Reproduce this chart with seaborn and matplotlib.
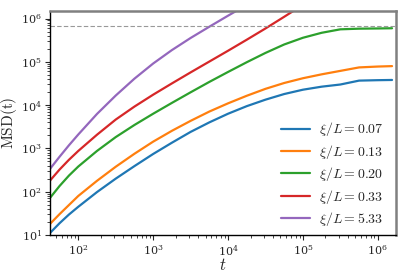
import numpy as np
import pandas as pd
import matplotlib
matplotlib.use("Agg")
import matplotlib.pyplot as plt
import seaborn as sns

# time points (log10) shared by all curves
log_t = [1.62, 1.75, 1.875, 2.0, 2.25, 2.5, 2.75, 3.0, 3.25, 3.5, 3.75, 4.0,
         4.25, 4.5, 4.75, 5.0, 5.25, 5.5, 5.75, 6.0, 6.19]

# log10 MSD (None = off the top of the plot)
msd_007 = [1.04, 1.27, 1.47, 1.65, 1.99, 2.30, 2.59, 2.87, 3.13, 3.38, 3.60, 3.80,
           3.975, 4.125, 4.255, 4.355, 4.425, 4.475, 4.565, 4.575, 4.58]
msd_013 = [1.25, 1.48, 1.69, 1.90, 2.25, 2.575, 2.875, 3.155, 3.405, 3.635, 3.85, 4.04,
           4.215, 4.375, 4.51, 4.62, 4.71, 4.79, 4.87, 4.89, 4.90]
msd_020 = [1.85, 2.13, 2.37, 2.58, 2.94, 3.26, 3.54, 3.80, 4.05, 4.295, 4.535, 4.765,
           4.99, 5.205, 5.40, 5.555, 5.67, 5.75, 5.765, 5.77, 5.775]
msd_033 = [2.25, 2.51, 2.735, 2.94, 3.315, 3.665, 3.965, 4.24, 4.50, 4.755, 5.005, 5.255,
           5.51, 5.77, 6.04, 6.315, 6.59, None, None, None, None]
msd_533 = [2.52, 2.806, 3.07, 3.32, 3.795, 4.22, 4.61, 4.96, 5.27, 5.55, 5.81, 6.065,
           6.315, 6.565, None, None, None, None, None, None, None]

labels = [r"$\xi/L = 0.07$", r"$\xi/L = 0.13$", r"$\xi/L = 0.20$",
          r"$\xi/L = 0.33$", r"$\xi/L = 5.33$"]
series = [msd_007, msd_013, msd_020, msd_033, msd_533]
plateau = 6.8e5

rows = []
for lab, vals in zip(labels, series):
    for lt, lv in zip(log_t, vals):
        if lv is not None:
            rows.append({"t": 10 ** lt, "msd": 10 ** lv, "xi": lab})
df = pd.DataFrame(rows)

sns.set_style("ticks")
plt.rcParams["font.family"] = "serif"
plt.rcParams["font.serif"] = ["DejaVu Serif"]
plt.rcParams["mathtext.fontset"] = "cm"

fig = plt.figure(figsize=(4.07, 2.79), dpi=100)
ax = fig.add_axes([0.123, 0.158, 0.850, 0.803])

sns.lineplot(data=df, x="t", y="msd", hue="xi", hue_order=labels,
             palette="tab10", linewidth=1.6, ax=ax)
ax.axhline(plateau, color="0.6", linestyle="--", linewidth=0.8, dashes=(4, 2))

ax.set_xscale("log")
ax.set_yscale("log")
ax.set_xlim(42, 1.75e6)
ax.set_ylim(10, 1.5e6)

ax.set_xlabel(r"$t$", fontsize=12)
ax.set_ylabel(r"$\mathrm{MSD(t)}$", fontsize=11)
ax.xaxis.set_label_coords(0.5, -0.1)
ax.yaxis.set_label_coords(-0.09, 0.5)
ax.tick_params(axis="both", which="major", labelsize=8, length=3.5, width=0.8, pad=2.5)
ax.tick_params(axis="both", which="minor", length=2, width=0.6)

for s in ["top", "right"]:
    ax.spines[s].set_color("0.5")
    ax.spines[s].set_linewidth(1.8)
for s in ["left", "bottom"]:
    ax.spines[s].set_color("black")
    ax.spines[s].set_linewidth(1.0)

ax.legend(loc="lower right", bbox_to_anchor=(0.98, 0.005), frameon=False,
          fontsize=10, handlelength=2.1, handletextpad=0.65, borderaxespad=0,
          labelspacing=0.32)

fig.savefig("out.png", dpi=100)
